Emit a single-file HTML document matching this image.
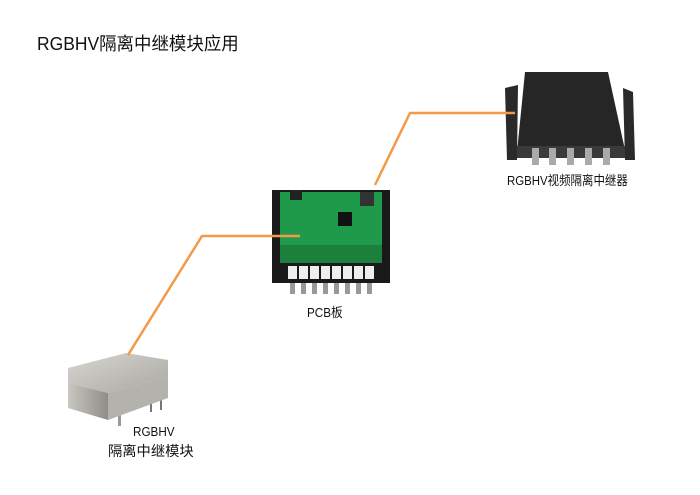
<!DOCTYPE html><html><head><meta charset="utf-8"><style>
body{margin:0;background:#fff;width:700px;height:495px;overflow:hidden;position:relative;font-family:"Liberation Sans","Noto Sans CJK SC",sans-serif}
.t{position:absolute;color:#111;white-space:nowrap;transform-origin:0 0}
</style></head><body>
<svg width="700" height="495" style="position:absolute;left:0;top:0">
<defs>
<linearGradient id="mt" x1="0" y1="0" x2="1" y2="1"><stop offset="0" stop-color="#d8d6d0"/><stop offset="1" stop-color="#a9a7a2"/></linearGradient>
<linearGradient id="ms" x1="0" y1="0" x2="1" y2="0"><stop offset="0" stop-color="#c9c7c2"/><stop offset="1" stop-color="#8f8d88"/></linearGradient>
</defs>
<g>
<rect x="88" y="400" width="2" height="12" fill="#777"/><rect x="98" y="402" width="2" height="12" fill="#777"/>
<rect x="150" y="398" width="2" height="14" fill="#777"/><rect x="160" y="394" width="2" height="16" fill="#777"/>
<rect x="118" y="404" width="3" height="22" fill="#999"/>
<polygon points="68,368 126,353 168,360 168,376 108,393 68,383" fill="url(#mt)"/>
<polygon points="68,383 108,393 108,420 68,408" fill="url(#ms)"/>
<polygon points="108,393 168,376 168,398 108,420" fill="#b4b2ad"/>
</g>
<g>
<rect x="272" y="190" width="118" height="93" fill="#1a1a1a"/>
<rect x="280" y="192" width="102" height="70" fill="#1f9a4a"/>
<rect x="280" y="245" width="102" height="18" fill="#1c7f3c"/>
<rect x="338" y="212" width="14" height="14" fill="#111"/>
<rect x="360" y="192" width="14" height="14" fill="#333"/>
<rect x="290" y="190" width="12" height="10" fill="#222"/>
<g fill="#eee">
<rect x="288" y="266" width="9" height="13"/><rect x="299" y="266" width="9" height="13"/><rect x="310" y="266" width="9" height="13"/><rect x="321" y="266" width="9" height="13"/><rect x="332" y="266" width="9" height="13"/><rect x="343" y="266" width="9" height="13"/><rect x="354" y="266" width="9" height="13"/><rect x="365" y="266" width="9" height="13"/>
</g>
<g fill="#999">
<rect x="290" y="283" width="5" height="11"/><rect x="301" y="283" width="5" height="11"/><rect x="312" y="283" width="5" height="11"/><rect x="323" y="283" width="5" height="11"/><rect x="334" y="283" width="5" height="11"/><rect x="345" y="283" width="5" height="11"/><rect x="356" y="283" width="5" height="11"/><rect x="367" y="283" width="5" height="11"/>
</g>
</g>
<g>
<polygon points="505,88 518,85 517,160 507,160" fill="#2a2a2a"/>
<polygon points="623,88 633,92 635,160 625,160" fill="#2a2a2a"/>
<polygon points="525,72 608,72 625,150 517,152" fill="#262626"/>
<rect x="517" y="146" width="108" height="12" fill="#3a3a3a"/>
<g fill="#aaa">
<rect x="532" y="148" width="7" height="17"/><rect x="549" y="148" width="7" height="17"/><rect x="567" y="148" width="7" height="17"/><rect x="585" y="148" width="7" height="17"/><rect x="603" y="148" width="7" height="17"/>
</g>
</g>
<polyline points="128,355 202,236 300,236" fill="none" stroke="#f39a4a" stroke-width="2.5"/>
<polyline points="375,185 410,113 515,113" fill="none" stroke="#f39a4a" stroke-width="2.5"/>
</svg>
<div class="t" style="left:37px;top:30px;font-size:18px;transform:scaleX(0.97)">RGBHV隔离中继模块应用</div>
<div class="t" style="left:507px;top:170px;font-size:13px;transform:scaleX(0.88)">RGBHV视频隔离中继器</div>
<div class="t" style="left:307px;top:302px;font-size:13px;transform:scaleX(0.9)">PCB板</div>
<div class="t" style="left:133px;top:424px;font-size:13px;transform:scaleX(0.9)">RGBHV</div>
<div class="t" style="left:108px;top:441px;font-size:14px;transform:scaleX(1.02)">隔离中继模块</div>
</body></html>
